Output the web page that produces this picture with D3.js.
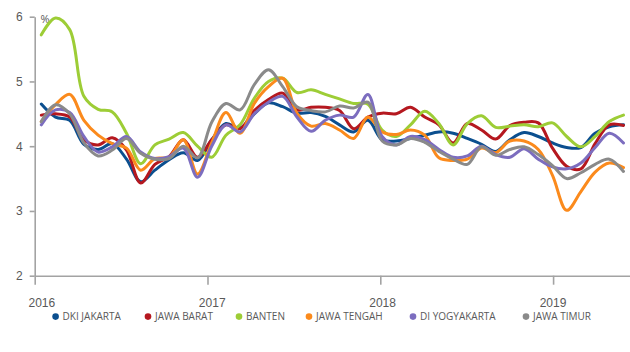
<!DOCTYPE html>
<html>
<head>
<meta charset="utf-8">
<script src="https://cdn.jsdelivr.net/npm/d3@7/dist/d3.min.js"></script>
<style>
  html, body { margin: 0; padding: 0; background: #fff; }
  svg { display: block; font-family: "Open Sans", "Noto Sans", sans-serif; }
</style>
</head>
<body>
<svg id="chart" width="630" height="352"></svg>
<script>
// Monthly series, January 2016 – June 2019 (percent)
const months = d3.range(42).map(i => new Date(2016, i, 1));
const yearLabels = ["2016", "2017", "2018", "2019"];
const yTicks = [2, 3, 4, 5, 6];

const seriesNames = ["DKI JAKARTA", "JAWA BARAT", "BANTEN", "JAWA TENGAH", "DI YOGYAKARTA", "JAWA TIMUR"];
const seriesColors = ["#0b4f8f", "#b5181f", "#9dcd36", "#fb8a1c", "#7c6dbf", "#8a8a8a"];

const dkiJakarta = [4.65, 4.45, 4.40, 4.03, 3.95, 4.04, 3.80, 3.45, 3.63, 3.79, 3.90, 3.78,
  4.10, 4.35, 4.28, 4.50, 4.67, 4.61, 4.51, 4.52, 4.46, 4.33, 4.22, 4.40,
  4.10, 4.08, 4.12, 4.17, 4.22, 4.20, 4.12, 4.03, 3.92, 4.10, 4.21, 4.15,
  4.05, 3.98, 3.98, 4.20, 4.30, 4.33];
const jawaBarat = [4.48, 4.50, 4.45, 4.10, 4.02, 4.13, 3.94, 3.43, 3.72, 3.84, 4.10, 3.83,
  4.10, 4.33, 4.27, 4.55, 4.72, 4.82, 4.56, 4.60, 4.60, 4.55, 4.27, 4.45,
  4.51, 4.50, 4.60, 4.45, 4.33, 4.05, 4.35, 4.25, 4.11, 4.32, 4.37, 4.36,
  3.97, 3.69, 3.65, 4.04, 4.33, 4.32];
const banten = [5.72, 5.98, 5.80, 4.77, 4.57, 4.53, 4.20, 3.73, 4.02, 4.11, 4.21, 4.00,
  3.83, 4.17, 4.33, 4.74, 5.00, 5.05, 4.83, 4.87, 4.80, 4.73, 4.66, 4.65,
  4.25, 4.15, 4.33, 4.54, 4.35, 4.02, 4.35, 4.47, 4.29, 4.31, 4.33, 4.30,
  4.36, 4.15, 3.99, 4.15, 4.38, 4.48];
const jawaTengah = [4.38, 4.64, 4.80, 4.40, 4.17, 4.04, 3.97, 3.63, 3.81, 3.83, 4.10, 3.57,
  4.05, 4.52, 4.20, 4.66, 4.92, 5.05, 4.51, 4.31, 4.35, 4.25, 4.12, 4.45,
  4.22, 4.18, 4.25, 4.17, 3.82, 3.78, 3.80, 3.97, 3.90, 4.08, 4.08, 3.95,
  3.55, 3.01, 3.30, 3.60, 3.74, 3.67];
const diYogyakarta = [4.33, 4.56, 4.52, 4.15, 3.91, 3.99, 4.15, 3.91, 3.81, 3.84, 3.97, 3.52,
  4.00, 4.33, 4.22, 4.50, 4.68, 4.77, 4.45, 4.23, 4.40, 4.48, 4.45, 4.80,
  4.15, 4.02, 4.15, 4.10, 3.95, 3.83, 3.85, 4.00, 3.87, 3.83, 3.96, 3.80,
  3.68, 3.65, 3.74, 3.98, 4.20, 4.05];
const jawaTimur = [4.38, 4.64, 4.50, 4.05, 3.85, 3.94, 4.12, 3.89, 3.80, 3.81, 4.00, 3.82,
  4.37, 4.66, 4.56, 4.95, 5.18, 4.92, 4.61, 4.55, 4.53, 4.62, 4.59, 4.68,
  4.08, 4.02, 4.12, 4.06, 3.92, 3.80, 3.72, 3.99, 3.86, 3.95, 3.99, 3.87,
  3.70, 3.50, 3.59, 3.72, 3.80, 3.61];

const seriesValues = [dkiJakarta, jawaBarat, banten, jawaTengah, diYogyakarta, jawaTimur];

const svg = d3.select("#chart");
const axisColor = "#a3a3a3";
const textColor = "#595959";

// Scales: month index for the data, calendar year for the axis ticks
const x = d3.scaleLinear().domain([0, months.length - 1]).range([41.3, 623.5]);
const xYear = d3.scaleLinear().domain([2016, 2019 + 77 / 173]).range([34.7, 630]);
const y = d3.scaleLinear().domain([2, 6]).range([275.7, 16.7]);

// Y axis
const yAxis = svg.append("g")
  .attr("transform", "translate(34.7,0)")
  .call(d3.axisLeft(y).tickValues(yTicks).tickSize(5).tickSizeOuter(0).tickPadding(7).tickFormat(d3.format("d")));
yAxis.select(".domain").attr("stroke", axisColor).attr("stroke-width", 1.6);
yAxis.selectAll(".tick line").attr("stroke", axisColor).attr("stroke-width", 1.6);
yAxis.selectAll(".tick text").attr("fill", textColor).style("font-size", "12px");

// X axis line and year tick marks
const xAxis = svg.append("g")
  .attr("transform", "translate(0,275.7)")
  .call(d3.axisBottom(xYear).tickValues([2016, 2017, 2018, 2019]).tickSize(9).tickSizeOuter(0).tickFormat(""));
xAxis.select(".domain").attr("stroke", axisColor).attr("stroke-width", 1.6);
xAxis.selectAll(".tick line").attr("stroke", axisColor).attr("stroke-width", 1.6);

// Year labels centred under each January
const xLabels = svg.append("g")
  .attr("transform", "translate(0,275.7)")
  .call(d3.axisBottom(x).tickValues([0, 12, 24, 36]).tickSize(0).tickPadding(23)
    .tickFormat(i => yearLabels[i / 12]));
xLabels.select(".domain").remove();
xLabels.selectAll(".tick text").attr("fill", textColor).style("font-size", "12px");

// Unit label
svg.append("text")
  .attr("x", 40.5).attr("y", 22.5)
  .attr("fill", textColor)
  .style("font-size", "11px")
  .text("%");

// Smoothed lines
const line = d3.line()
  .x((d, i) => x(i))
  .y(d => y(d))
  .curve(d3.curveCatmullRom.alpha(0.5));

svg.append("g")
  .selectAll("path")
  .data(seriesValues)
  .join("path")
  .attr("d", line)
  .attr("fill", "none")
  .attr("stroke", (d, i) => seriesColors[i])
  .attr("stroke-width", 3)
  .attr("stroke-linejoin", "round")
  .attr("stroke-linecap", "round");

// Legend
const legendX = [55.6, 148, 239, 309, 413, 526];
const legend = svg.append("g").attr("transform", "translate(0,316.6)");
const items = legend.selectAll("g")
  .data(seriesNames)
  .join("g")
  .attr("transform", (d, i) => `translate(${legendX[i]},0)`);
items.append("circle")
  .attr("r", 3.3)
  .attr("fill", (d, i) => seriesColors[i]);
items.append("text")
  .attr("x", 7)
  .attr("dy", "0.35em")
  .attr("fill", textColor)
  .style("font-size", "10px")
  .text(d => d);
</script>
</body>
</html>
